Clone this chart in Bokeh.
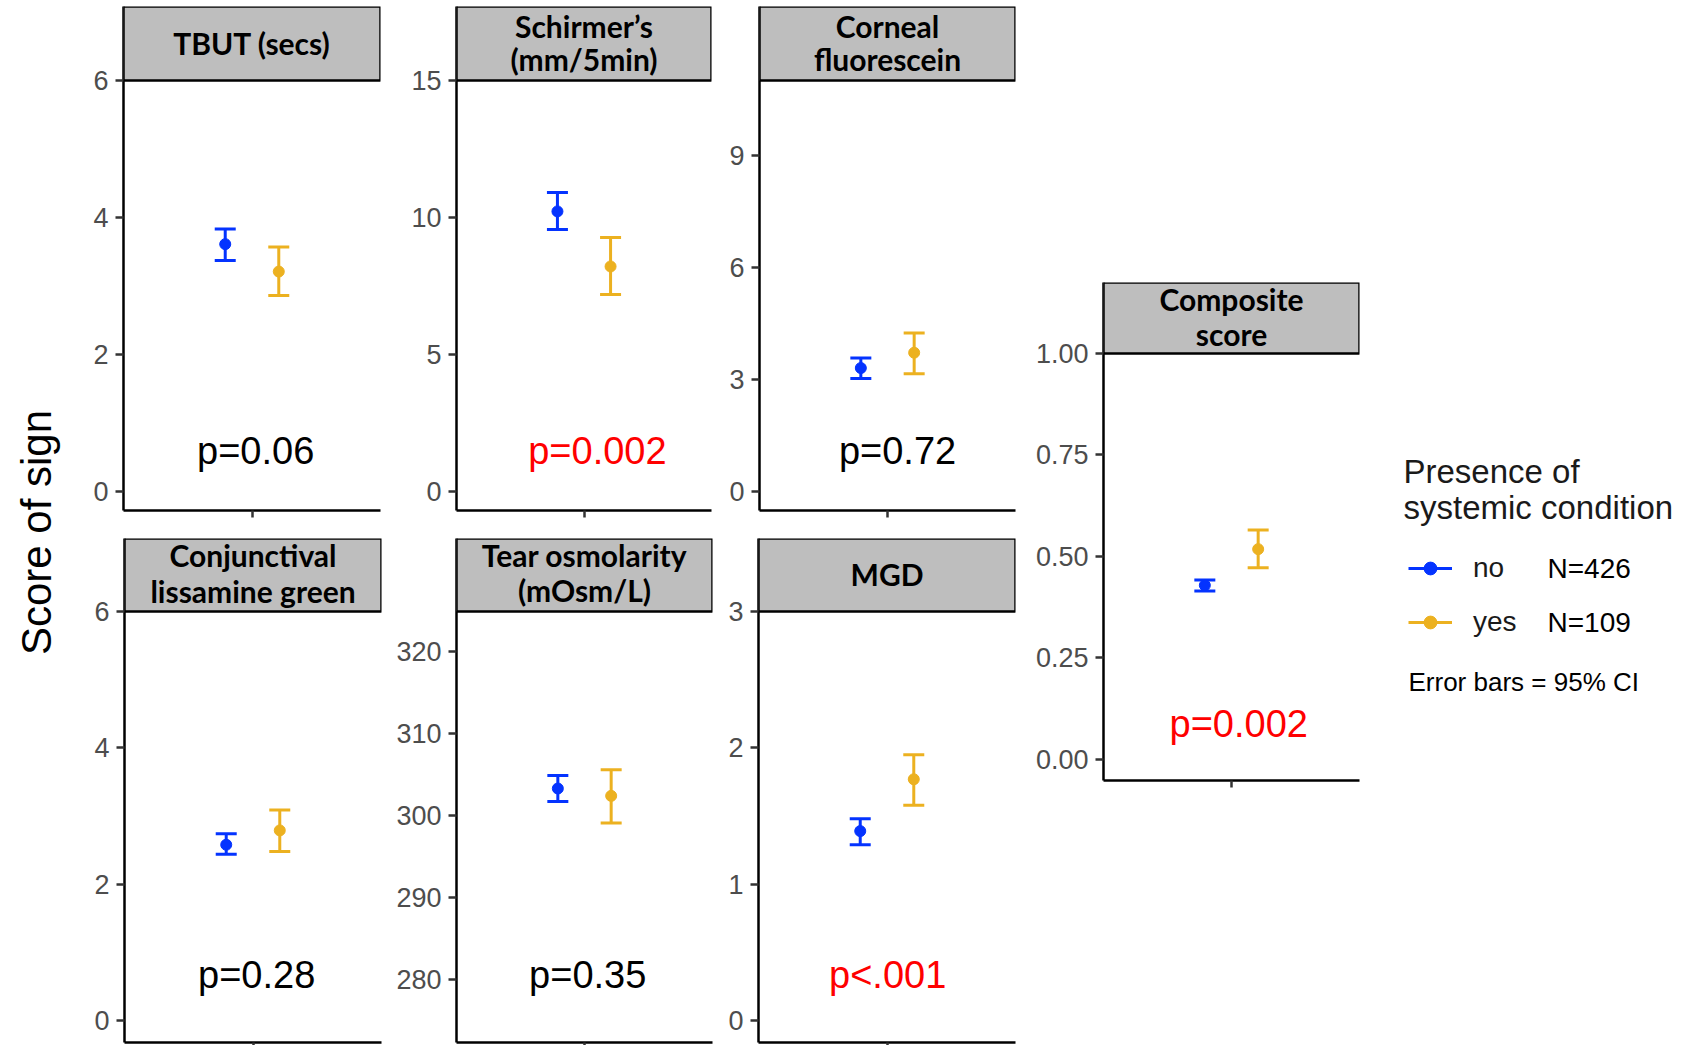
import math
from bokeh.plotting import figure
from bokeh.models import (Range1d, FixedTicker, Whisker, TeeHead, ColumnDataSource,
                          BoxAnnotation, Label, Legend, LegendItem, PrintfTickFormatter)
from bokeh.layouts import row, column
from bokeh.embed import file_html
from bokeh.resources import INLINE

# ---------------- data ----------------
groups = ["no", "yes"]
group_n = ["N=426", "N=109"]
group_colors = ["#0433FF", "#ECB120"]
group_x = [0.875, 1.125]  # dodged positions around the single category

strip_titles = [
    ["TBUT (secs)"],
    ["Schirmer\u2019s", "(mm/5min)"],
    ["Corneal", "fluorescein"],
    ["Conjunctival", "lissamine green"],
    ["Tear osmolarity", "(mOsm/L)"],
    ["MGD"],
    ["Composite", "score"],
]
mean_no = [3.61, 10.22, 3.31, 2.58, 303.3, 1.39, 0.429]
lo_no = [3.37, 9.56, 3.03, 2.44, 301.7, 1.29, 0.415]
hi_no = [3.83, 10.91, 3.58, 2.74, 304.9, 1.48, 0.442]
mean_yes = [3.21, 8.21, 3.72, 2.79, 302.4, 1.77, 0.518]
lo_yes = [2.86, 7.19, 3.16, 2.48, 299.1, 1.58, 0.472]
hi_yes = [3.57, 9.27, 4.25, 3.09, 305.6, 1.95, 0.565]
p_text = ["p=0.06", "p=0.002", "p=0.72", "p=0.28", "p=0.35", "p<.001", "p=0.002"]
p_signif = [False, True, False, False, False, True, True]
y_ticks = [
    [0, 2, 4, 6],
    [0, 5, 10, 15],
    [0, 3, 6, 9],
    [0, 2, 4, 6],
    [280, 290, 300, 310, 320],
    [0, 1, 2, 3],
    [0, 0.25, 0.5, 0.75, 1.0],
]
y_limits = [(-0.28, 6.0), (-0.7, 15.0), (-0.5, 11.0), (-0.32, 6.0),
            (272.3, 324.9), (-0.16, 3.0), (-0.052, 1.0)]

# ---------------- layout (pixels) ----------------
# w, h, borders, strip height, p-label centre above x axis, p-label x (data),
# strip text centres below strip top, x tick length
layout = [
    dict(w=320, h=520, L=53, R=10, T=6, B=10, strip=74, pc=60, px=1.017, sc=[36], tick=7),
    dict(w=330, h=520, L=66, R=9, T=6, B=10, strip=74, pc=60, px=1.063, sc=[19, 52], tick=7),
    dict(w=310, h=520, L=39, R=15, T=6, B=10, strip=74, pc=60, px=1.047, sc=[19, 52], tick=7),
    dict(w=320, h=525, L=54, R=9, T=18, B=3, strip=73, pc=68, px=1.017, sc=[16, 52], tick=3),
    dict(w=330, h=525, L=66, R=8, T=18, B=3, strip=73, pc=68, px=1.015, sc=[16, 51], tick=3),
    dict(w=310, h=525, L=38, R=15, T=18, B=3, strip=73, pc=68, px=1.003, sc=[35], tick=3),
    dict(w=345, h=1045, L=73, R=16, T=282, B=265, strip=71, pc=57, px=1.034, sc=[16, 51], tick=7),
]
PAGE_H = 1045
SIDE_T, SIDE_B = 282, 265   # side figures share the composite panel's frame rows

TICK_FONT = "Liberation Sans"
STRIP_FONT = "Lato"


def make_panel(i):
    cfg = layout[i]
    ymin, ymax = y_limits[i]
    frame_h = cfg["h"] - cfg["T"] - cfg["B"]
    plot_px = frame_h - cfg["strip"]
    upp = (ymax - ymin) / plot_px  # data units per pixel
    ytop = ymax + cfg["strip"] * upp

    p = figure(width=cfg["w"], height=cfg["h"], x_range=Range1d(0.4, 1.6),
               y_range=Range1d(ymin, ytop), output_backend="svg",
               toolbar_location=None, min_border_left=cfg["L"],
               min_border_right=cfg["R"], min_border_top=cfg["T"],
               min_border_bottom=cfg["B"])
    p.grid.visible = False
    p.outline_line_color = None
    p.background_fill_color = "white"
    p.border_fill_color = "white"

    # y axis
    p.yaxis.ticker = FixedTicker(ticks=y_ticks[i])
    if i == 6:
        p.yaxis.formatter = PrintfTickFormatter(format="%.2f")
    p.yaxis.major_label_text_font = TICK_FONT
    p.yaxis.major_label_text_font_size = "27px"
    p.yaxis.major_label_text_color = "#4d4d4d"
    p.yaxis.major_label_standoff = 7
    p.yaxis.major_tick_out = 8
    p.yaxis.major_tick_in = 0
    p.yaxis.minor_tick_out = 0
    p.yaxis.minor_tick_in = 0
    p.axis.axis_line_width = 2.5
    p.axis.axis_line_color = "black"
    p.axis.major_tick_line_width = 2.5
    p.axis.major_tick_line_color = "#333333"
    # x axis: single unlabelled category tick
    p.xaxis.ticker = FixedTicker(ticks=[], minor_ticks=[1.0])
    p.xaxis.major_tick_out = 0
    p.xaxis.major_tick_in = 0
    p.xaxis.minor_tick_out = cfg["tick"]
    p.xaxis.minor_tick_in = 0
    p.xaxis.minor_tick_line_width = 2.5
    p.xaxis.minor_tick_line_color = "#333333"

    means = [mean_no[i], mean_yes[i]]
    los = [lo_no[i], lo_yes[i]]
    his = [hi_no[i], hi_yes[i]]
    for g in range(2):
        src = ColumnDataSource(dict(x=[group_x[g]], y=[means[g]], lower=[los[g]], upper=[his[g]]))
        c = group_colors[g]
        wk = Whisker(base="x", lower="lower", upper="upper", source=src, dimension="height",
                     line_color=c, line_width=3,
                     upper_head=TeeHead(size=21, line_color=c, line_width=3),
                     lower_head=TeeHead(size=21, line_color=c, line_width=3))
        p.add_layout(wk)
        p.scatter(x="x", y="y", source=src, size=11, fill_color=c, line_color=c)

    # strip
    p.add_layout(BoxAnnotation(bottom=ymax, top=None, left=None, right=None,
                               fill_color="#bebebe", fill_alpha=1.0,
                               line_color="black", line_width=2.5, line_alpha=1.0))
    for txt, c_px in zip(strip_titles[i], cfg["sc"]):
        p.add_layout(Label(x=1.0, y=ytop - c_px * upp, text=txt, text_align="center",
                           text_baseline="middle", text_font=STRIP_FONT,
                           text_font_style="bold", text_font_size="30px",
                           text_color="black"))

    # p-value
    p.add_layout(Label(x=cfg["px"], y=ymin + cfg["pc"] * upp, text=p_text[i],
                       text_align="center", text_baseline="middle",
                       text_font=TICK_FONT, text_font_size="38px",
                       text_color="#ff0000" if p_signif[i] else "black"))
    return p


panels = [make_panel(i) for i in range(7)]


def side_figure(width):
    f = figure(width=width, height=PAGE_H, x_range=Range1d(0, width),
               y_range=Range1d(SIDE_B, PAGE_H - SIDE_T), output_backend="svg",
               toolbar_location=None, min_border_left=0, min_border_right=0,
               min_border_top=SIDE_T, min_border_bottom=SIDE_B)
    f.axis.visible = False
    f.grid.visible = False
    f.outline_line_color = None
    return f


# y-axis title (y values are page pixels measured from the bottom)
tf = side_figure(70)
tf.add_layout(Label(x=36, y=PAGE_H - 532, text="Score of sign", angle=math.pi / 2,
                    text_align="center", text_baseline="middle",
                    text_font=TICK_FONT, text_font_size="42px", text_color="black"))

# legend panel (legend keys come from renderers with no visible data)
lg = side_figure(314)
items = []
for g in range(2):
    c = group_colors[g]
    src = ColumnDataSource(dict(x=[float("nan")], y=[float("nan")]))
    rl = lg.line(x="x", y="y", source=src, line_color=c, line_width=3)
    rs = lg.scatter(x="x", y="y", source=src, size=10, fill_color=c, line_color=c)
    items.append(LegendItem(label=groups[g], renderers=[rl, rs]))
leg = Legend(items=items, location=(33, 780 - 638), padding=0, margin=0, spacing=22,
             glyph_width=44, glyph_height=32, label_height=32, label_standoff=21,
             label_text_font=TICK_FONT, label_text_font_size="28px",
             label_text_color="#1a1a1a",
             border_line_color=None, background_fill_alpha=0)
lg.add_layout(leg)
lg.add_layout(Label(x=28, y=PAGE_H - 471, text="Presence of", text_font=TICK_FONT,
                    text_baseline="middle", text_font_size="33px", text_color="#1a1a1a"))
lg.add_layout(Label(x=28, y=PAGE_H - 507, text="systemic condition", text_font=TICK_FONT,
                    text_baseline="middle", text_font_size="33px", text_color="#1a1a1a"))
for g, yc in zip(range(2), [568, 622]):
    lg.add_layout(Label(x=172, y=PAGE_H - yc, text=group_n[g], text_font=TICK_FONT,
                        text_baseline="middle", text_font_size="28px", text_color="black"))
lg.add_layout(Label(x=33, y=PAGE_H - 681, text="Error bars = 95% CI", text_font=TICK_FONT,
                    text_baseline="middle", text_font_size="26px", text_color="black"))

grid = column(row(panels[0], panels[1], panels[2]), row(panels[3], panels[4], panels[5]))
page = row(tf, grid, panels[6], lg)

open("out.html", "w").write(file_html(page, INLINE))
